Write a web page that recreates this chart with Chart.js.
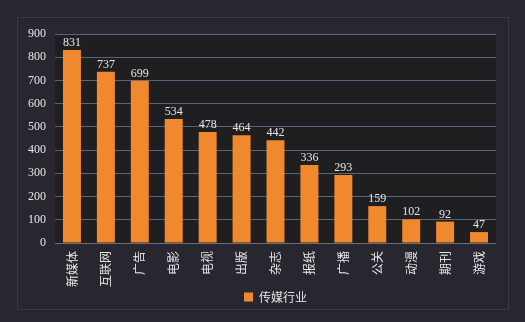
<!DOCTYPE html>
<html><head><meta charset="utf-8">
<script src="https://cdn.jsdelivr.net/npm/chart.js@4/dist/chart.umd.min.js"></script>
<style>html,body{margin:0;padding:0;background:#28262f;}#wrap{width:525px;height:322px;}</style>
</head><body><div id="wrap"><canvas id="c" width="525" height="322"></canvas></div>
<script>
const categories = ['新媒体','互联网','广告','电影','电视','出版','杂志','报纸','广播','公关','动漫','期刊','游戏'];
const seriesName = '传媒行业';
const values = [831,737,699,534,478,464,442,336,293,159,102,92,47];
const yTicks = [0,100,200,300,400,500,600,700,800,900];

const bgPlugin = {
  id:'bg',
  afterLayout(chart){
    const a = chart.chartArea, lg = chart.legend;
    if (lg) { lg.left = a.left; lg.right = a.right; }
  },
  beforeDraw(chart){
    const ctx = chart.ctx, a = chart.chartArea;
    ctx.save();
    ctx.fillStyle = '#28262f';
    ctx.fillRect(0,0,chart.width,chart.height);
    ctx.strokeStyle = '#3b3a43';
    ctx.lineWidth = 1;
    ctx.strokeRect(17.5,17.5,491,292);
    ctx.fillStyle = '#1f1e20';
    ctx.fillRect(a.left, a.top, a.right-a.left, a.bottom-a.top);
    ctx.restore();
  },
  afterDatasetsDraw(chart){
    const ctx = chart.ctx;
    const meta = chart.getDatasetMeta(0);
    ctx.save();
    ctx.font = '12px "Liberation Serif", serif';
    ctx.fillStyle = '#e6e6e6';
    ctx.textAlign = 'center';
    ctx.textBaseline = 'alphabetic';
    meta.data.forEach((bar,i)=>{
      ctx.fillText(String(chart.data.datasets[0].data[i]), bar.x, bar.y-4);
    });
    ctx.restore();
  }
};

new Chart(document.getElementById('c'), {
  type:'bar',
  data:{labels:categories, datasets:[{label:seriesName, data:values, backgroundColor:'#f0882d', borderWidth:0, barPercentage:0.53, categoryPercentage:1}]},
  options:{
    responsive:false, animation:false,
    layout:{padding:{top:34,right:29,left:0,bottom:9}},
    plugins:{
      legend:{position:'bottom', labels:{color:'#e6e6e6', boxWidth:9, boxHeight:9, padding:4, font:{size:12, family:'"Noto Sans CJK SC", sans-serif'}}},
      tooltip:{enabled:false}
    },
    scales:{
      x:{
        grid:{display:false, drawTicks:false},
        border:{display:false},
        ticks:{color:'#e6e6e6', minRotation:90, maxRotation:90, autoSkip:false, padding:8, font:{size:12, family:'"Noto Sans CJK SC", sans-serif'}},
        afterFit(s){ s.height = 44; }
      },
      y:{
        min:0, max:900,
        afterBuildTicks(s){ s.ticks = yTicks.map(v=>({value:v})); },
        grid:{color:(c)=> (c.tick && c.tick.value===0) ? '#707074' : '#56657a', lineWidth:1, drawTicks:false},
        border:{display:false},
        ticks:{color:'#e6e6e6', padding:9, font:{size:12, family:'"Liberation Serif", serif'}},
        afterFit(s){ s.width = 55; }
      }
    }
  },
  plugins:[bgPlugin]
});
</script></body></html>
